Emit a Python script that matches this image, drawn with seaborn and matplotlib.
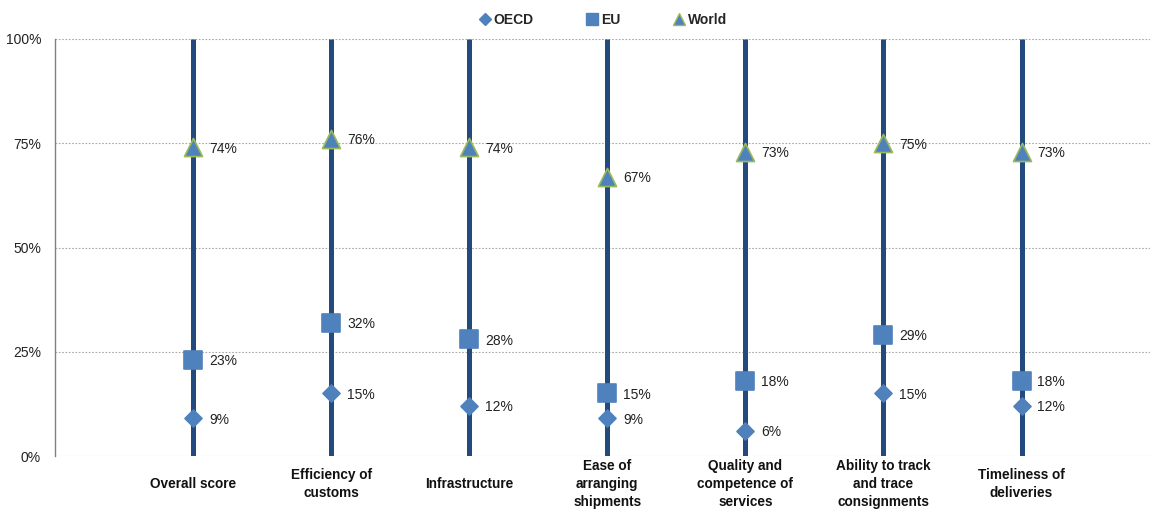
import numpy as np
import pandas as pd
import matplotlib
matplotlib.use("Agg")
import matplotlib.pyplot as plt
from matplotlib.lines import Line2D
import seaborn as sns

# Logistics performance components: share of gap to best performer
categories = [
    "Overall score",
    "Efficiency of\ncustoms",
    "Infrastructure",
    "Ease of\narranging\nshipments",
    "Quality and\ncompetence of\nservices",
    "Ability to track\nand trace\nconsignments",
    "Timeliness of\ndeliveries",
]
oecd = [9, 15, 12, 9, 6, 15, 12]
eu = [23, 32, 28, 15, 18, 29, 18]
world = [74, 76, 74, 67, 73, 75, 73]
series_names = ["OECD", "EU", "World"]
y_ticks = [0, 25, 50, 75, 100]

sns.set_theme(style="white")
plt.rcParams["font.family"] = ["Liberation Sans", "DejaVu Sans"]

navy = "#234A7C"
blue = "#4F81BD"
green = "#9BBB59"

pos = np.arange(len(categories))
df = pd.DataFrame({
    "pos": np.tile(pos, 3),
    "value": oecd + eu + world,
    "series": np.repeat(series_names, len(categories)),
})

fig = plt.figure(figsize=(11.52, 5.11), dpi=100)
ax = fig.add_axes([0.0477, 0.1076, 0.9505, 0.8161])

# horizontal dotted grid
for t in y_ticks:
    ax.axhline(t, color="#A8A8A8", lw=0.8, ls=(0, (1.5, 1.5)), zorder=0)

# vertical range lines per category
ax.vlines(pos, 0, 100, color=navy, lw=3.6, zorder=1)

markers = {"OECD": "D", "EU": "s", "World": "^"}
sizes = {"OECD": 75, "EU": 160, "World": 170}
edges = {"OECD": blue, "EU": blue, "World": green}
for name in series_names:
    sub = df[df["series"] == name]
    sns.scatterplot(data=sub, x="pos", y="value", marker=markers[name],
                    s=sizes[name], color=blue, edgecolor=edges[name],
                    linewidth=1.2, ax=ax, zorder=3, legend=False)
    for _, r in sub.iterrows():
        ax.annotate(f"{r['value']:.0f}%", (r["pos"], r["value"]),
                    xytext=(11.5, -1), textcoords="offset points",
                    ha="left", va="center", fontsize=10, color="#222222")

ax.set_xlim(-1, 6.93)
ax.set_ylim(0, 100)
ax.set_yticks(y_ticks)
ax.set_yticklabels([f"{t}%" for t in y_ticks], fontsize=10, color="#222222")
ax.set_xticks(pos)
ax.set_xticklabels(categories, fontsize=9.8, fontweight="bold", color="#111111",
                   va="center", linespacing=1.35)
ax.tick_params(axis="x", length=0, pad=20)
ax.tick_params(axis="y", length=0, pad=10)
ax.set_xlabel("")
ax.set_ylabel("")
for s in ["top", "right", "bottom"]:
    ax.spines[s].set_visible(False)
ax.spines["left"].set_color("#808080")
ax.spines["left"].set_linewidth(1.0)

handles = [
    Line2D([], [], marker="D", ls="", color=blue, markersize=6),
    Line2D([], [], marker="s", ls="", color=blue, markersize=8),
    Line2D([], [], marker="^", ls="", color=blue, markeredgecolor=green,
           markersize=8),
]
leg = fig.legend(handles, series_names, loc="center", bbox_to_anchor=(0.523, 0.961),
                 ncol=3, frameon=False, handlelength=1.0, handletextpad=0.15,
                 columnspacing=3.7, prop={"weight": "bold", "size": 10})

fig.savefig("out.png", dpi=100)
